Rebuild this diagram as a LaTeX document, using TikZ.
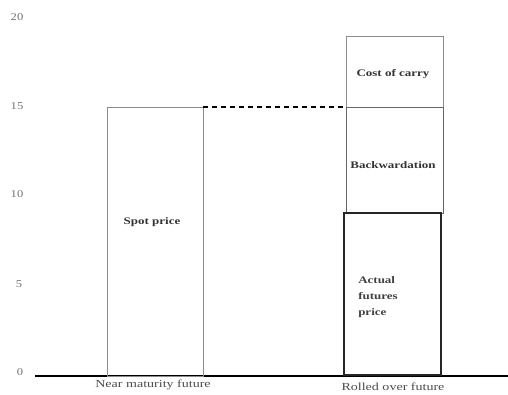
\documentclass[tikz,border=0pt]{standalone}
\usepackage{fontspec}
\setmainfont{Liberation Serif}
\begin{document}
\begin{tikzpicture}[x=1pt,y=-1pt,
  bar/.style={draw=black!45, line width=0.8pt, minimum width=96pt, anchor=north west, inner sep=0pt, outer sep=0pt},
  lbl/.style={font=\fontsize{10}{12}\selectfont\bfseries, text=black!80, xscale=1.3, transform shape},
  axlbl/.style={font=\fontsize{10.8}{12}\selectfont, text=black!70, xscale=1.3, transform shape},
  tick/.style={font=\fontsize{10.5}{12}\selectfont, text=black!55, xscale=1.2, transform shape}]
\useasboundingbox (0,0) rectangle (508,394);
% axis
\coordinate (ax0) at (35,376);
\coordinate (ax1) at (508,376);
\draw[line width=1.2pt] (ax0) -- (ax1);
% ticks
\node[tick] (t20) at (17,17) {20};
\node[tick] (t15) at (17,106) {15};
\node[tick] (t10) at (17,194) {10};
\node[tick] (t5) at (19,284) {5};
\node[tick] (t0) at (20,372) {0};
% bars
\node[bar, minimum height=269pt] (spot) at (107,107) {};
\node[bar, minimum width=97pt, minimum height=71pt] (carry) at (346,36) {};
\node[bar, draw=black!60, minimum width=97pt, minimum height=106pt] (back) at (346,107) {};
\node[bar, draw=black!85, line width=2.6pt, minimum width=97pt, minimum height=162pt] (actual) at (344,213) {};
% dashed
\draw[dashed, line width=1.1pt, dash pattern=on 5pt off 4pt] (spot.north east) -- (back.north west);
% labels
\node[lbl] (ls) at (152,222) {Spot price};
\node[lbl] (lc) at (393,74) {Cost of carry};
\node[lbl] (lb) at (393,165) {Backwardation};
\node[lbl, font=\fontsize{10}{16}\selectfont\bfseries, align=left, anchor=north west, inner sep=0pt, text=black!75] (la) at (358,276) {Actual\\futures\\price};
\node[axlbl] (n1) at (153,385) {Near maturity future};
\node[axlbl] (n2) at (393,387) {Rolled over future};
\end{tikzpicture}
\end{document}
